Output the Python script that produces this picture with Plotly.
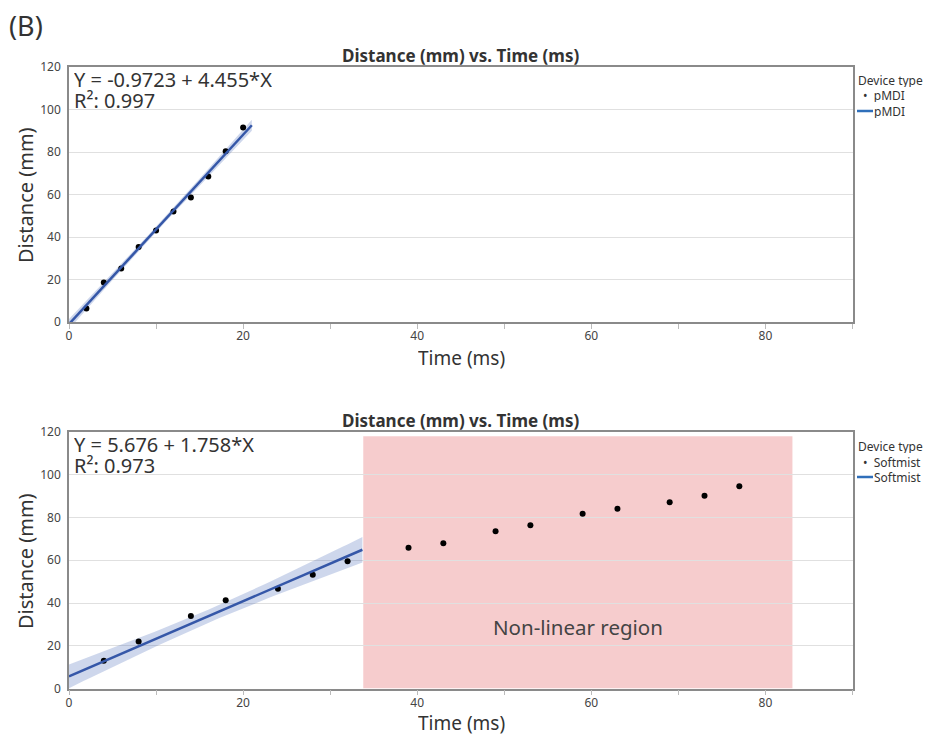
import numpy as np
import plotly.graph_objects as go

# ---------------- data ----------------
pmdi_time = [2, 4, 6, 8, 10, 12, 14, 16, 18, 20]
pmdi_dist = [6.3, 18.6, 25.2, 35.3, 43.1, 52.0, 58.6, 68.5, 80.3, 91.5]
pmdi_intercept, pmdi_slope, pmdi_r2 = -0.9723, 4.455, 0.997
pmdi_fit_end = 21.0

soft_time = [4, 8, 14, 18, 24, 28, 32]
soft_dist = [13.0, 22.0, 33.9, 41.3, 46.7, 53.2, 59.5]
soft_intercept, soft_slope, soft_r2 = 5.676, 1.758, 0.973
soft_fit_end = 33.7

soft_nl_time = [39, 43, 49, 53, 59, 63, 69, 73, 77]
soft_nl_dist = [65.8, 68.0, 73.6, 76.4, 81.8, 84.1, 87.1, 90.2, 94.6]

nonlinear_region = dict(x0=33.8, x1=83.1, y0=0, y1=118)

x_ticks = [0, 20, 40, 60, 80]
y_ticks = [0, 20, 40, 60, 80, 100, 120]

# ---------------- helpers ----------------
def conf_band(xs, ys, a, b, xg, t):
    xs = np.array([0.0] + list(xs))
    ys = np.array([0.0] + list(ys))
    n = len(xs)
    res = ys - (a + b * xs)
    s = np.sqrt(np.sum(res ** 2) / (n - 2))
    xbar = xs.mean()
    sxx = np.sum((xs - xbar) ** 2)
    half = t * s * np.sqrt(1.0 / n + (xg - xbar) ** 2 / sxx)
    yhat = a + b * xg
    return yhat, yhat - half, yhat + half

FONT = "Noto Sans"
LINE_C = "#3557a8"
LEG_LINE_C = "#2f6fba"
BAND_C = "rgba(60,95,180,0.25)"
TXT = "#333333"

# page body has an 8px margin; figure coordinates are offset accordingly
W, H = 920, 730
OFF = 8


def px(x):
    return (x - OFF) / W


def py(y):
    return 1 - (y - OFF) / H


fig = go.Figure()


def add_panel(xs, ys, a, b, fit_end, t, name, xa, ya):
    xg = np.linspace(0, fit_end, 60)
    yhat, lo, hi = conf_band(xs, ys, a, b, xg, t)
    fig.add_trace(go.Scatter(x=np.concatenate([xg, xg[::-1]]),
                             y=np.concatenate([hi, lo[::-1]]),
                             fill="toself", fillcolor=BAND_C, line=dict(width=0),
                             mode="lines", showlegend=False, hoverinfo="skip",
                             xaxis=xa, yaxis=ya))
    fig.add_trace(go.Scatter(x=xs, y=ys, mode="markers", name=name,
                             marker=dict(color="black", size=6), showlegend=False,
                             xaxis=xa, yaxis=ya))
    fig.add_trace(go.Scatter(x=xg, y=yhat, mode="lines", name=name,
                             line=dict(color=LINE_C, width=2.5), showlegend=False,
                             xaxis=xa, yaxis=ya))


add_panel(pmdi_time, pmdi_dist, pmdi_intercept, pmdi_slope, pmdi_fit_end, 2.262,
          "pMDI", "x", "y")

fig.add_shape(type="rect", xref="x2", yref="y2",
              x0=nonlinear_region["x0"], x1=nonlinear_region["x1"],
              y0=nonlinear_region["y0"], y1=nonlinear_region["y1"],
              fillcolor="rgba(240,170,172,0.6)", line=dict(width=0), layer="below")

add_panel(soft_time, soft_dist, soft_intercept, soft_slope, soft_fit_end, 2.447,
          "Softmist", "x2", "y2")
fig.add_trace(go.Scatter(x=soft_nl_time, y=soft_nl_dist, mode="markers",
                         marker=dict(color="black", size=6), showlegend=False,
                         xaxis="x2", yaxis="y2"))

xdom = [px(69), px(852.5)]
top_dom = [py(322), py(67)]
bot_dom = [py(688.5), py(432)]

axis_common = dict(showline=True, mirror=True, linecolor="#8a8a8a", linewidth=1.5,
                   tickfont=dict(family=FONT, size=12, color="#444"), zeroline=False,
                   automargin=False)
xaxis_common = dict(axis_common, range=[0, 90], tickvals=x_ticks,
                    ticks="outside", ticklen=5, tickcolor="#bbb", showgrid=False,
                    ticklabelstandoff=-3,
                    minor=dict(dtick=10, tick0=0, ticks="outside", ticklen=5, tickcolor="#bbb",
                               showgrid=False))
yaxis_common = dict(axis_common, range=[0, 120], tickvals=y_ticks, showgrid=True,
                    gridcolor="#e0e0e0", ticks="", ticklabelstandoff=4)

fig.update_layout(
    width=W, height=H, margin=dict(l=0, r=0, t=0, b=0, autoexpand=False),
    paper_bgcolor="white", plot_bgcolor="white",
    font=dict(family=FONT, color=TXT),
    showlegend=False,
    xaxis=dict(xaxis_common, domain=xdom, anchor="y"),
    yaxis=dict(yaxis_common, domain=top_dom, anchor="x"),
    xaxis2=dict(xaxis_common, domain=xdom, anchor="y2"),
    yaxis2=dict(yaxis_common, domain=bot_dom, anchor="x2"),
)


def ann(text, x, y, size, xanchor="left", yanchor="top", bold=False, xref="paper",
        yref="paper", color=TXT, height=None, angle=0):
    kw = {}
    if height is not None:
        kw["height"] = height
    fig.add_annotation(text=f"<b>{text}</b>" if bold else text, x=x, y=y, xref=xref, yref=yref,
                       xanchor=xanchor, yanchor=yanchor, showarrow=False, borderpad=0,
                       textangle=angle,
                       font=dict(family=FONT, size=size, color=color), **kw)


ann("(B)", px(8), py(6), 27)
for yt in (55, 421):
    ann("Distance (mm) vs. Time (ms)", px(460.5), py(yt), 17, xanchor="center",
        yanchor="middle", bold=True)
for yt in (358, 723):
    ann("Time (ms)", px(461), py(yt), 19, xanchor="center", yanchor="middle", height=22)
for yc in (195, 561):
    ann("Distance (mm)", px(25), py(yc), 20, xanchor="center", yanchor="middle", angle=-90)
ann(f"Y = {pmdi_intercept} + {pmdi_slope}*X", px(73), py(79), 20, yanchor="middle", height=20)
ann(f"R²: {pmdi_r2}", px(73), py(100), 20, yanchor="middle", height=20)
ann(f"Y = {soft_intercept} + {soft_slope}*X", px(73), py(444), 20, yanchor="middle", height=20)
ann(f"R²: {soft_r2}", px(73), py(465), 20, yanchor="middle", height=20)
ann("Non-linear region", (nonlinear_region["x0"] + nonlinear_region["x1"]) / 2, 29,
    20.5, xanchor="center", yanchor="middle", xref="x2", yref="y2", color="#444")


# legends (title, marker entry, line entry) for each panel
def legend_block(name, y_title):
    ann("Device type", px(857), py(y_title), 12, yanchor="middle", height=14)
    ann(f"•  {name}", px(862), py(y_title + 16), 12, yanchor="middle", height=13)
    ann(name, px(873), py(y_title + 31), 12, yanchor="middle", height=13)
    fig.add_shape(type="line", xref="paper", yref="paper",
                  x0=px(857), x1=px(873), y0=py(y_title + 31), y1=py(y_title + 31),
                  line=dict(color=LEG_LINE_C, width=2.5))


legend_block("pMDI", 80)
legend_block("Softmist", 446)

fig.write_html("out.html")
